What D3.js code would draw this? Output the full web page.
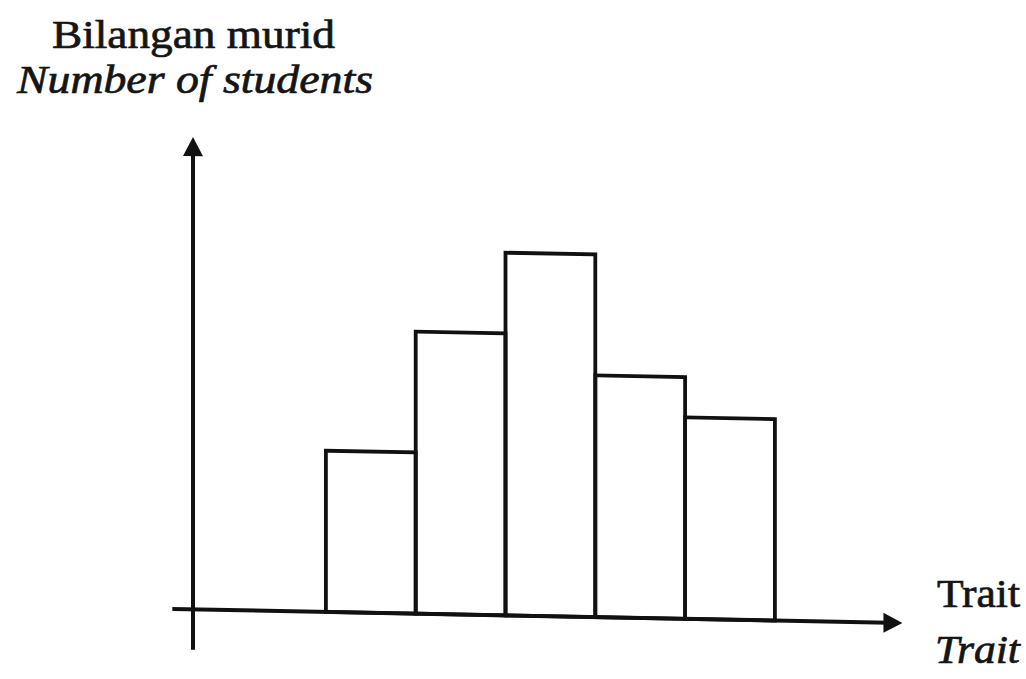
<!DOCTYPE html>
<html>
<head>
<meta charset="utf-8">
<script src="https://cdn.jsdelivr.net/npm/d3@7"></script>
<style>
  html, body { margin: 0; padding: 0; background: #ffffff; }
  svg { display: block; }
</style>
</head>
<body>
<svg id="chart" width="1026" height="679"></svg>
<script>
// ---- data ----
const classes = ["A", "B", "C", "D", "E"];          // trait classes (unlabelled in the original)
const students = [4, 7, 9, 6, 5];                   // number of students per class
const yTitle = ["Bilangan murid", "Number of students"];
const xTitle = ["Trait", "Trait"];

// ---- layout ----
const originX = 193, baseY = 605.7;
const unitX = 89.8, unitY = 40.3;
const skew = 1.1; // slight tilt of horizontal lines in the scan
const serif = "'Liberation Serif', 'Times New Roman', Times, serif";

const svg = d3.select("#chart");

const x = d3.scaleLinear().domain([0, 1]).range([originX, originX + unitX]);
const y = d3.scaleLinear().domain([0, 1]).range([baseY, baseY - unitY]);

const plot = svg.append("g").attr("transform", `skewY(${skew})`);

// bars (histogram, contiguous)
const startClass = 1.48;
plot.selectAll("rect.bar")
  .data(students)
  .join("rect")
  .attr("class", "bar")
  .attr("x", (d, i) => x(startClass + i))
  .attr("y", d => y(d))
  .attr("width", (d, i) => x(startClass + i + 1) - x(startClass + i))
  .attr("height", d => y(0) - y(d))
  .attr("fill", "none")
  .attr("stroke", "#111")
  .attr("stroke-width", 3.8);

// axes
const xAxisStart = -0.23, xAxisEnd = 7.9;
const yAxisBottom = -1.0, yAxisTop = 11.72;

plot.append("line")
  .attr("x1", x(xAxisStart)).attr("y1", y(0))
  .attr("x2", x(xAxisEnd) - 14).attr("y2", y(0))
  .attr("stroke", "#111").attr("stroke-width", 4);

plot.append("path")
  .attr("d", `M${x(xAxisEnd)},${y(0)} L${x(xAxisEnd) - 19},${y(0) - 10} L${x(xAxisEnd) - 19},${y(0) + 10} Z`)
  .attr("fill", "#111");

plot.append("line")
  .attr("x1", x(0)).attr("y1", y(yAxisBottom))
  .attr("x2", x(0)).attr("y2", y(yAxisTop) + 14)
  .attr("stroke", "#111").attr("stroke-width", 4);

plot.append("path")
  .attr("d", `M${x(0)},${y(yAxisTop)} L${x(0) - 10},${y(yAxisTop) + 19} L${x(0) + 10},${y(yAxisTop) + 19} Z`)
  .attr("fill", "#111");

// titles
function label(txt, x0, y0, len, italic) {
  svg.append("text")
    .attr("x", x0).attr("y", y0)
    .attr("font-family", serif)
    .attr("font-size", 40)
    .attr("font-style", italic ? "italic" : "normal")
    .attr("fill", "#151515")
    .attr("stroke", "#151515")
    .attr("stroke-width", 0.7)
    .attr("textLength", len).attr("lengthAdjust", "spacingAndGlyphs")
    .text(txt);
}
label(yTitle[0], 52, 48, 283, false);
label(yTitle[1], 17, 93, 356, true);
label(xTitle[0], 937, 607, 83, false);
label(xTitle[1], 935, 663, 85, true);
</script>
</body>
</html>
